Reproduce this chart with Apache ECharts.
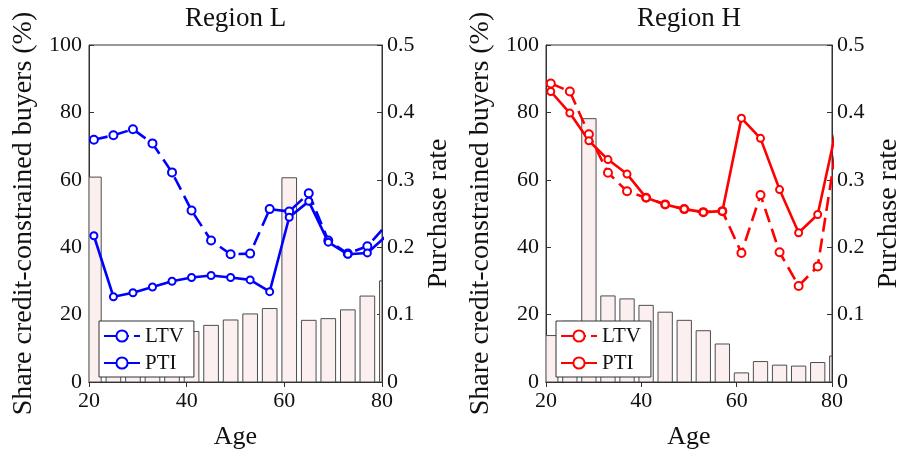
<!DOCTYPE html>
<html>
<head>
<meta charset="utf-8">
<script src="https://cdn.jsdelivr.net/npm/echarts@6/dist/echarts.min.js"></script>
<style>
html,body{margin:0;padding:0;background:#fff;}
#chart{width:904px;height:455px;}
</style>
</head>
<body>
<div id="chart"></div>
<script>
// ---- data ----
const ages = [21, 25, 29, 33, 37, 41, 45, 49, 53, 57, 61, 65, 69, 73, 77, 81];
const xTicks = [20, 40, 60, 80];
const leftTicks = [0, 20, 40, 60, 80, 100];
const rightTicks = [0, 0.1, 0.2, 0.3, 0.4, 0.5];

const ltvL = [71.9, 73.2, 75.0, 70.8, 62.2, 50.9, 42.0, 37.9, 38.1, 51.3, 50.6, 56.0, 42.0, 38.1, 40.3, 46.7];
const ptiL = [43.4, 25.3, 26.5, 28.2, 29.9, 31.0, 31.6, 31.0, 30.3, 26.8, 48.9, 53.6, 41.5, 37.9, 38.3, 43.5];
const rateL = [0.304, 0.07, 0.07, 0.07, 0.072, 0.075, 0.084, 0.092, 0.101, 0.109, 0.303, 0.0915, 0.094, 0.107, 0.1275, 0.150];

const ltvH = [88.6, 86.2, 73.5, 62.1, 56.6, 54.7, 52.7, 51.3, 50.4, 50.7, 38.3, 55.5, 38.5, 28.5, 34.3, 70.5];
const ptiH = [86.2, 79.8, 71.6, 66.0, 61.7, 54.7, 52.7, 51.3, 50.4, 50.7, 78.3, 72.3, 57.1, 44.3, 49.7, 75.7];
const rateH = [0.0689, 0.09, 0.3907, 0.1277, 0.1233, 0.1137, 0.1036, 0.0915, 0.0761, 0.0564, 0.0135, 0.0303, 0.025, 0.0236, 0.0289, 0.0385];

const titles = ['Region L', 'Region H'];
const xName = 'Age';
const leftName = 'Share credit-constrained buyers (%)';
const rightName = 'Purchase rate';

// ---- styling ----
const FONT = 'Liberation Serif';
const AX = '#333333';
const TXT = '#111111';
const BAR_HALF = 1.5; // half bar width in age units
const pair = (vals) => ages.map((a, i) => [a, vals[i]]);

const grids = [
  {left: 89, top: 41, width: 293, height: 346, show: true, borderColor: AX, borderWidth: 1, backgroundColor: 'transparent'},
  {left: 546, top: 41, width: 291, height: 346, show: true, borderColor: AX, borderWidth: 1, backgroundColor: 'transparent'}
];

function xAx(g, pos) {
  const bottom = pos === 'bottom';
  return {
    type: 'value', gridIndex: g, position: pos,
    min: xTicks[0], max: xTicks[xTicks.length - 1], interval: xTicks[1] - xTicks[0],
    name: bottom ? xName : titles[g], nameLocation: 'middle',
    nameGap: bottom ? 42 : 13,
    nameTextStyle: {fontFamily: FONT, fontSize: bottom ? 26 : 27, color: TXT},
    axisLine: {show: true, lineStyle: {color: AX, width: 1}},
    axisTick: {show: true, inside: true, length: 5, lineStyle: {color: AX}},
    axisLabel: {show: bottom, fontFamily: FONT, fontSize: 22, color: TXT, margin: 8},
    splitLine: {show: false}
  };
}
function yAx(g, pos) {
  const left = pos === 'left';
  const t = left ? leftTicks : rightTicks;
  return {
    type: 'value', gridIndex: g, position: pos,
    min: t[0], max: t[t.length - 1], interval: t[1] - t[0],
    name: left ? leftName : rightName, nameLocation: 'middle', nameRotate: 90,
    nameGap: left ? 51 : 43,
    nameTextStyle: {fontFamily: FONT, fontSize: 28, color: TXT},
    axisLine: {show: true, lineStyle: {color: AX, width: 1}},
    axisTick: {show: true, inside: true, length: 5, lineStyle: {color: AX}},
    axisLabel: {fontFamily: FONT, fontSize: 22, color: TXT, margin: left ? 7 : 5},
    splitLine: {show: false}
  };
}

function barSeries(g, vals) {
  return {
    type: 'custom', name: 'rate' + g, coordinateSystem: 'cartesian2d',
    xAxisIndex: g * 2, yAxisIndex: g * 2 + 1, z: 1, clip: true,
    data: pair(vals), encode: {x: 0, y: 1},
    renderItem: function (params, api) {
      const a = api.value(0), v = api.value(1);
      const p0 = api.coord([a - BAR_HALF, v]);
      const p1 = api.coord([a + BAR_HALF, 0]);
      const cs = params.coordSys;
      const shape = echarts.graphic.clipRectByRect(
        {x: p0[0], y: p0[1], width: p1[0] - p0[0], height: p1[1] - p0[1]},
        {x: cs.x, y: cs.y, width: cs.width, height: cs.height});
      if (!shape) return null;
      return {type: 'rect', shape: shape,
        style: {fill: '#fcefef', stroke: '#4d4d4d', lineWidth: 1}};
    }
  };
}
function lineSeries(g, name, vals, color, dashed) {
  return {
    type: 'line', name: name, xAxisIndex: g * 2, yAxisIndex: g * 2, z: 3,
    data: pair(vals), clip: true,
    symbol: 'emptyCircle', symbolSize: dashed ? 8 : 7, showAllSymbol: true,
    lineStyle: {color: color, width: 2.6, type: dashed ? [14, 7] : 'solid'},
    itemStyle: {color: color, borderColor: color, borderWidth: 2}
  };
}
function legend(g, left) {
  return {
    show: true, orient: 'vertical', left: left, top: 321,
    data: [
      {name: 'LTV-' + g, lineStyle: {type: [25, 5]}},
      {name: 'PTI-' + g}
    ],
    formatter: (n) => n.split('-')[0],
    backgroundColor: '#ffffff', borderColor: AX, borderWidth: 1,
    padding: [3, 10, 2, 4], itemGap: 3, itemWidth: 36, itemHeight: 14,
    selectedMode: false,
    textStyle: {fontFamily: FONT, fontSize: 21, color: TXT, lineHeight: 24}
  };
}

const option = {
  animation: false,
  backgroundColor: '#ffffff',
  grid: grids,
  xAxis: [xAx(0, 'bottom'), xAx(0, 'top'), xAx(1, 'bottom'), xAx(1, 'top')],
  yAxis: [yAx(0, 'left'), yAx(0, 'right'), yAx(1, 'left'), yAx(1, 'right')],
  legend: [legend('L', 99), legend('H', 556)],
  series: [
    barSeries(0, rateL),
    lineSeries(0, 'LTV-L', ltvL, '#0000ff', true),
    lineSeries(0, 'PTI-L', ptiL, '#0000ff', false),
    barSeries(1, rateH),
    lineSeries(1, 'LTV-H', ltvH, '#ff0000', true),
    lineSeries(1, 'PTI-H', ptiH, '#ff0000', false)
  ]
};
const chart = echarts.init(document.getElementById('chart'), null, {renderer: 'canvas'});
chart.setOption(option);
</script>
</body>
</html>
